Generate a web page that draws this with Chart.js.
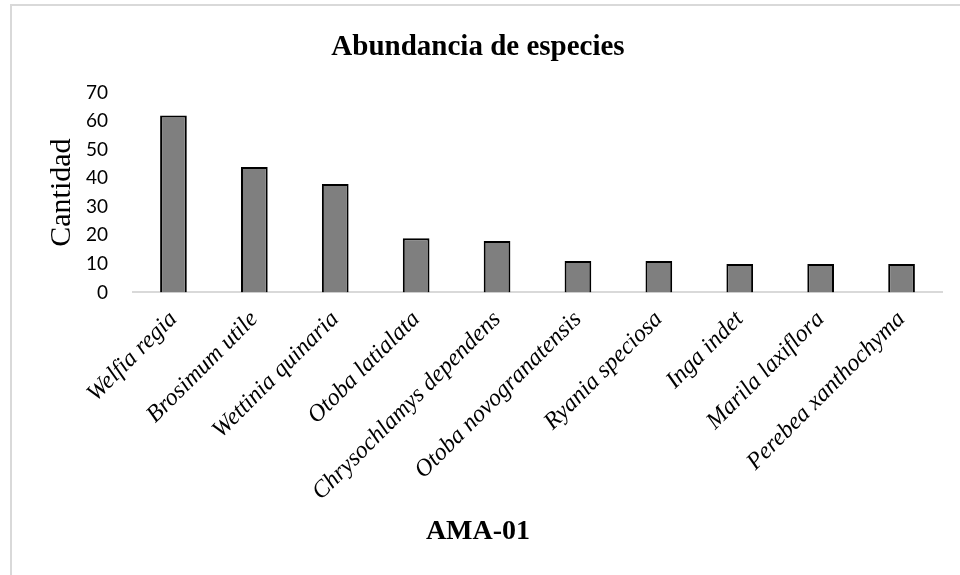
<!DOCTYPE html>
<html>
<head>
<meta charset="utf-8">
<script src="https://cdn.jsdelivr.net/npm/chart.js@4"></script>
<style>
    html, body { margin: 0; padding: 0; background: #fff; }
    #frame {
        position: absolute; left: 10px; top: 4px; width: 960px; height: 600px;
        border-top: 2px solid #d9d9d9; border-left: 2px solid #d9d9d9;
    }
    #chart { position: absolute; left: 0; top: 0; }
</style>
</head>
<body>
<div id="frame"></div>
<canvas id="chart" width="960" height="575"></canvas>
<script>
    const chartTitle = 'Abundancia de especies';
    const xTitle = 'AMA-01';
    const yTitle = 'Cantidad';
    const species = [
        'Welfia regia', 'Brosimum utile', 'Wettinia quinaria', 'Otoba latialata',
        'Chrysochlamys dependens', 'Otoba novogranatensis', 'Ryania speciosa',
        'Inga indet', 'Marila laxiflora', 'Perebea xanthochyma'
    ];
    const counts = [62, 44, 38, 19, 18, 11, 11, 10, 10, 10];
    const yMax = 70;
    const yStep = 10;

    const serif = "'Liberation Serif', 'Times New Roman', serif";

    (function () {
        const config = {
            type: 'bar',
            data: {
                labels: species,
                datasets: [{
                    data: counts,
                    backgroundColor: '#7f7f7f',
                    borderColor: '#000',
                    borderWidth: 2,
                    barPercentage: 0.33,
                    categoryPercentage: 1
                }]
            },
            options: {
                responsive: false,
                animation: false,
                devicePixelRatio: 1,
                layout: { padding: { left: 14, right: 18, top: 0, bottom: 20 } },
                plugins: {
                    legend: { display: false },
                    tooltip: { enabled: false },
                    title: {
                        display: true,
                        text: chartTitle,
                        color: '#000',
                        font: { family: serif, size: 29, weight: 'bold' },
                        padding: { top: 30, bottom: 28 }
                    },
                    // x axis title, centred on the whole chart like the original
                    subtitle: {
                        display: true,
                        position: 'bottom',
                        text: xTitle,
                        color: '#000',
                        font: { family: serif, size: 28, weight: 'bold' },
                        padding: { top: 0, bottom: 6 }
                    }
                },
                scales: {
                    x: {
                        grid: { display: false },
                        border: { display: true, color: '#d9d9d9', width: 2 },
                        ticks: {
                            color: '#000',
                            font: { family: serif, size: 24, style: 'italic' },
                            maxRotation: 45,
                            minRotation: 45,
                            autoSkip: false,
                            padding: 5
                        },
                        afterFit: function (scale) { scale.height = 223; }
                    },
                    y: {
                        min: 0,
                        max: yMax,
                        grid: { display: false },
                        border: { display: false },
                        ticks: {
                            stepSize: yStep,
                            color: '#000',
                            font: { family: 'Lato', size: 19 },
                            padding: 17
                        },
                        title: {
                            display: true,
                            text: yTitle,
                            color: '#000',
                            font: { family: serif, size: 30 },
                            padding: { top: 30, bottom: 0 }
                        },
                        afterFit: function (scale) { scale.width = 119; }
                    }
                }
            }
        };

        new Chart('chart', config);
    })();
</script>
</body>
</html>
